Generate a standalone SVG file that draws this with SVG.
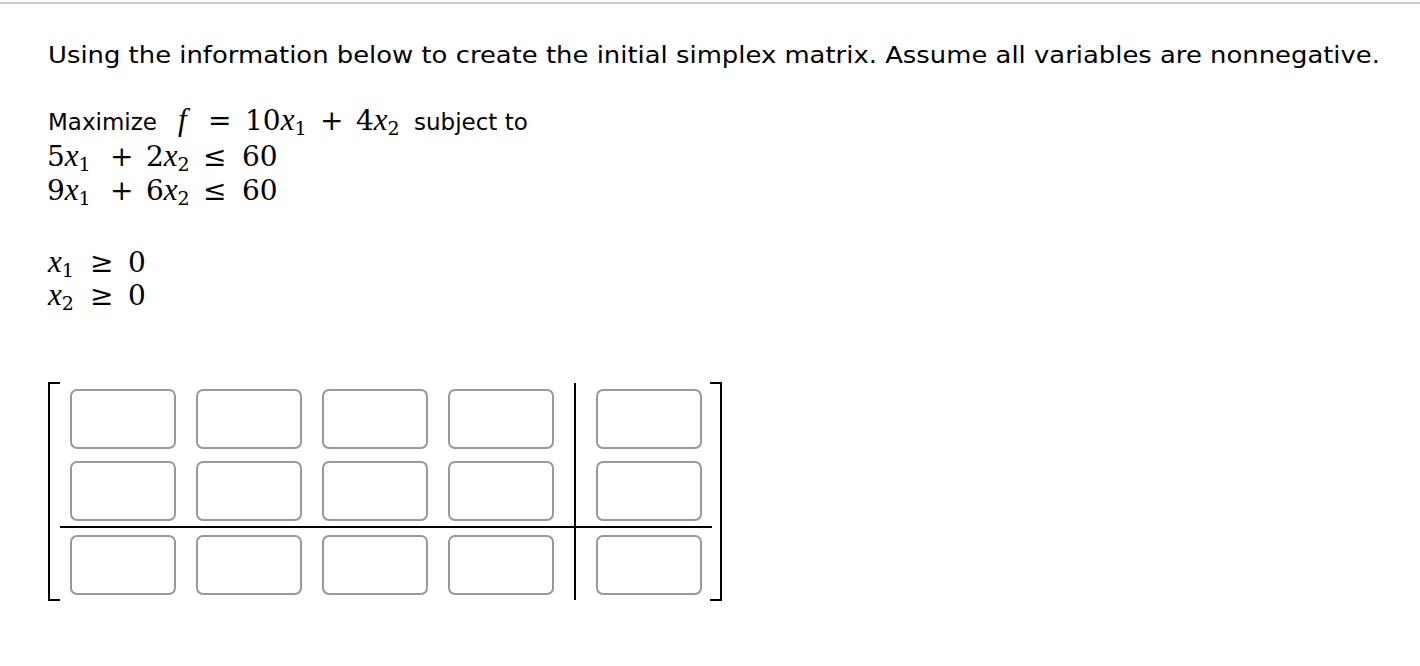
<svg xmlns="http://www.w3.org/2000/svg" width="1420" height="666" viewBox="0 0 1420 666">
<style>
.t{font-family:"DejaVu Sans",Verdana,sans-serif;font-size:23px;fill:#000}
.m{font-family:"DejaVu Serif","Liberation Serif",serif;font-size:28px;fill:#000}
.i{font-style:italic;font-family:"Liberation Serif",serif;font-size:31px}
.s{font-size:19px}
.b{fill:#fff;stroke:#999;stroke-width:2}
.k{fill:none;stroke:#000;stroke-width:2}
</style>
<rect width="1420" height="666" fill="#fff"/>
<line x1="0" y1="3" x2="1420" y2="3" stroke="#ccc" stroke-width="2"/>
<text class="t" x="48" y="63" textLength="1332" lengthAdjust="spacingAndGlyphs">Using the information below to create the initial simplex matrix. Assume all variables are nonnegative.</text>
<text class="t" x="48" y="130">Maximize</text>
<text class="m" y="130"><tspan class="i" font-style="italic" x="178">f</tspan><tspan x="208">=</tspan><tspan x="245">10</tspan><tspan class="i" font-style="italic">x</tspan><tspan class="s" dy="5">1</tspan><tspan x="320" dy="-5">+</tspan><tspan x="356">4</tspan><tspan class="i" font-style="italic">x</tspan><tspan class="s" dy="5">2</tspan></text>
<text class="t" x="414" y="130">subject to</text>
<text class="m" y="166"><tspan x="47">5</tspan><tspan class="i" font-style="italic">x</tspan><tspan class="s" dy="5">1</tspan><tspan x="110" dy="-5">+</tspan><tspan x="146">2</tspan><tspan class="i" font-style="italic">x</tspan><tspan class="s" dy="5">2</tspan><tspan x="203" dy="-5">≤</tspan><tspan x="242">60</tspan></text>
<text class="m" y="200"><tspan x="47">9</tspan><tspan class="i" font-style="italic">x</tspan><tspan class="s" dy="5">1</tspan><tspan x="110" dy="-5">+</tspan><tspan x="146">6</tspan><tspan class="i" font-style="italic">x</tspan><tspan class="s" dy="5">2</tspan><tspan x="203" dy="-5">≤</tspan><tspan x="242">60</tspan></text>
<text class="m" y="272"><tspan class="i" font-style="italic" x="48">x</tspan><tspan class="s" dy="5">1</tspan><tspan x="90" dy="-5">≥</tspan><tspan x="128">0</tspan></text>
<text class="m" y="305"><tspan class="i" font-style="italic" x="48">x</tspan><tspan class="s" dy="5">2</tspan><tspan x="90" dy="-5">≥</tspan><tspan x="128">0</tspan></text>
<path class="k" d="M60,383 H49 V600 H60"/>
<path class="k" d="M710,383 H721 V600 H710"/>
<line class="k" x1="60" y1="527" x2="712" y2="527"/>
<line class="k" x1="575" y1="383" x2="575" y2="600"/>
<g>
<rect class="b" x="71" y="390" width="104" height="58" rx="6"/><rect class="b" x="197" y="390" width="104" height="58" rx="6"/><rect class="b" x="323" y="390" width="104" height="58" rx="6"/><rect class="b" x="449" y="390" width="104" height="58" rx="6"/><rect class="b" x="597" y="390" width="104" height="58" rx="6"/>
<rect class="b" x="71" y="462" width="104" height="58" rx="6"/><rect class="b" x="197" y="462" width="104" height="58" rx="6"/><rect class="b" x="323" y="462" width="104" height="58" rx="6"/><rect class="b" x="449" y="462" width="104" height="58" rx="6"/><rect class="b" x="597" y="462" width="104" height="58" rx="6"/>
<rect class="b" x="71" y="536" width="104" height="58" rx="6"/><rect class="b" x="197" y="536" width="104" height="58" rx="6"/><rect class="b" x="323" y="536" width="104" height="58" rx="6"/><rect class="b" x="449" y="536" width="104" height="58" rx="6"/><rect class="b" x="597" y="536" width="104" height="58" rx="6"/>
</g>
</svg>
